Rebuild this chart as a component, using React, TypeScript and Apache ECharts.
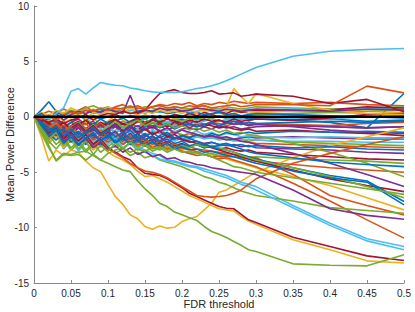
import React, { useEffect, useRef } from "react";
import * as echarts from "echarts";

// FDR threshold grid (x values)
const FDR = [
  0, 0.01, 0.02, 0.03, 0.04, 0.05, 0.06, 0.07, 0.08, 0.09,
  0.1, 0.11, 0.12, 0.13, 0.14, 0.15, 0.16, 0.17, 0.18, 0.19,
  0.2, 0.21, 0.22, 0.23, 0.24, 0.25, 0.26, 0.27, 0.28, 0.29,
  0.3, 0.35, 0.4, 0.45, 0.5,
];

const X_TICKS = [0, 0.05, 0.1, 0.15, 0.2, 0.25, 0.3, 0.35, 0.4, 0.45, 0.5];
const Y_TICKS = [-15, -10, -5, 0, 5, 10];

const BLUE = "#0072BD";
const ORANGE = "#D95319";
const YELLOW = "#EDB120";
const PURPLE = "#7E2F8E";
const GREEN = "#77AC30";
const CYAN = "#4DBEEE";
const RED = "#A2142F";

const L1 = [0,0.1,-0.2,0.3,0.8, 2.3,2.55,2.05,2.6,3.1, 2.95,2.85,2.8,2.6,2.5, 2.35,2.25,2.2,2.2,2.2, 2.25,2.4,2.55,2.65,2.8, 3.0,3.25,3.55,3.85,4.15, 4.45, 5.47,5.92,6.07,6.16];
const L2 = [0,-0.3,-0.5,-0.2,-0.6, -0.3,-0.1,0.2,-0.3,0.1, 0.3,0.2,0.5,0.3,0.4, 0.6,1.4,2.1,2.3,2.45, 2.2,2.1,2.1,2.2,2.35, 2.05,2.1,2.16,1.86,1.95, 2.05, 1.86,1.2,1.57,0.45];
const L3 = [0,-0.2,0.1,-0.3,0.2, 0.4,0.3,0.6,0.5,0.7, 0.6,0.8,0.7,0.9,0.8, 0.7,0.9,1.0,0.8,0.9, 0.8,1.0,0.9,1.0,0.8, 0.9,1.0,1.1,0.9,1.0, 1.1, 1.1,1.0,2.77,2.16];
const L4 = [0,0.6,1.35,0.5,0.3, 0.1,0.2,-0.3,0.1,-0.2, 0.0,0.2,-0.1,0.1,0.0, -0.2,0.1,-0.1,0.0,0.2, 0.1,-0.1,0.0,0.1,0.2, 0.0,-0.1,0.1,0.0,-0.2, -0.1, -0.3,-0.5,-1.0,2.1];
const L5 = [0,-0.5,-0.3,0.2,-0.4, 0.1,0.3,-0.2,0.4,0.2, 0.5,0.3,0.6,0.4,0.2, 0.5,0.3,0.6,0.4,0.5, 0.3,0.6,0.4,0.8,0.6, 0.5,0.9,2.56,1.8,1.2, 2.1, 1.2,0.6,0.3,0.2];
const L6 = [0,-0.4,-0.2,0.3,-0.3, 0.2,0.5,0.3,0.6,0.4, 0.7,0.5,0.3,1.95,0.3, 0.6,0.5,0.8,0.6,0.7, 0.5,0.6,0.8,0.7,0.6, 0.5,0.7,0.6,0.5,0.6, 0.7, 0.6,0.5,0.7,0.6];

const A1 = [0,-0.3,0.2,-0.5,0.3, 0.6,0.4,0.8,1.0,0.7, 0.9,0.6,0.8,1.0,0.7, 0.9,0.8,0.6,0.7,0.9, 0.8,0.7,0.9,1.0,0.8, 0.7,0.9,0.8,0.7,0.8, 0.9, 0.8,0.7,0.8,0.9];
const A2 = [0,-0.6,-0.9,-0.4,-1.1, -0.5,-0.8,-0.3,-0.7,-0.2, -0.6,-0.4,-0.1,-0.5,-0.3, -0.6,-0.2,-0.4,-0.5,-0.3, -0.2,-0.4,-0.1,-0.3,-0.2, -0.4,-0.3,-0.1,-0.2,-0.3, -0.2, -0.3,-0.2,-0.4,-0.3];
const A3 = [0,0.2,0.5,0.3,0.7, 0.4,0.6,0.9,0.5,0.8, 0.6,0.9,1.1,0.8,1.0, 0.7,0.9,1.1,1.0,1.2, 1.1,1.3,1.0,1.2,1.1, 1.3,1.2,1.4,1.3,1.2, 1.3, 1.2,1.3,1.1,1.0];
const A4 = [0,-0.8,-0.4,-1.2,-0.6, -0.2,-0.9,-0.5,-0.1,-0.7, -0.4,0.1,-0.3,-0.6,-0.2, 0.2,-0.1,-0.4,0.1,-0.2, 0.0,0.3,0.1,-0.1,0.2, 0.4,0.1,0.3,0.5,0.3, 0.4, 0.6,0.7,0.5,0.6];
const A5 = [0,-0.2,-0.6,-0.3,-0.9, -0.5,-0.2,-0.7,-0.4,-1.0, -0.6,-0.3,-0.8,-0.5,-0.2, -0.6,-0.9,-0.4,-0.7,-0.5, -0.3,-0.6,-0.4,-0.7,-0.5, -0.3,-0.6,-0.4,-0.5,-0.7, -0.6, -0.8,-0.9,-1.0,-0.9];
const A6 = [0,-0.4,0.1,-0.2,0.4, 0.1,0.5,0.2,0.6,0.3, 0.5,0.7,0.4,0.6,0.5, 0.3,0.6,0.4,0.5,0.7, 0.6,0.4,0.5,0.6,0.5, 0.7,0.6,0.5,0.6,0.7, 0.6, 0.7,0.6,0.8,0.7];
const A7 = [0,-0.5,-1.0,-0.6,-1.3, -0.8,-0.4,-1.1,-0.6,-0.9, -0.5,-0.2,-0.7,-0.4,-0.1, -0.5,-0.3,0.1,-0.2,0.2, 0.0,0.3,0.1,0.4,0.2, 0.5,0.3,0.6,0.4,0.5, 0.6, 0.5,0.6,0.9,0.8];
const A8 = [0,0.3,-0.2,0.4,0.1, 0.5,0.2,0.6,0.3,0.5, 0.7,0.4,0.6,0.3,0.5, 0.6,0.4,0.5,0.3,0.4, 0.5,0.3,0.4,0.2,0.3, 0.4,0.2,0.3,0.1,0.2, 0.3, 0.2,0.1,0.0,-0.1];
const A9 = [0,-0.7,-1.5,-1.0,-1.8, -1.2,-0.8,-1.4,-0.9,-0.5, -1.1,-0.7,-0.4,-0.8,-0.5, -0.2,-0.6,-0.3,-0.5,-0.2, -0.4,-0.1,-0.3,0.0,-0.2, 0.1,-0.1,0.2,0.0,0.1, 0.2, 0.3,0.4,0.5,0.6];
const A10 = [0,-0.3,-0.7,-1.2,-0.8, -1.5,-1.0,-0.6,-1.3,-0.8, -1.1,-0.7,-1.0,-0.6,-0.9, -0.5,-0.8,-0.6,-0.9,-0.7, -0.5,-0.8,-0.6,-0.7,-0.5, -0.6,-0.8,-0.6,-0.7,-0.5, -0.6, -0.7,-0.8,-0.6,-0.5];
const A11 = [0,0.4,0.1,0.6,0.3, 0.8,0.5,0.2,0.7,0.4, 0.9,0.6,0.3,0.8,0.5, 0.7,0.4,0.6,0.8,0.5, 0.7,0.6,0.8,0.5,0.7, 0.6,0.5,0.7,0.6,0.5, 0.4, 0.5,0.4,0.3,0.4];
const A12 = [0,-0.9,-1.6,-1.1,-2.0, -1.4,-0.9,-1.6,-1.1,-1.8, -1.2,-0.8,-1.4,-0.9,-1.3, -0.7,-1.1,-0.8,-1.2,-0.9, -0.6,-1.0,-0.7,-0.9,-0.6, -0.8,-0.5,-0.7,-0.6,-0.8, -0.7, -0.9,-1.2,-1.4,-1.5];
const A13 = [0,-1.0,-2.1,-1.5,-2.6, -1.9,-1.3,-2.2,-1.6,-1.0, -1.7,-1.2,-0.8,-1.4,-1.0, -0.6,-1.1,-0.7,-0.4,-0.8, -0.5,-0.3,-0.6,-0.4,-0.2, -0.4,-0.3,-0.1,-0.2,-0.3, -0.2, -0.1,-0.2,0.0,0.1];
const A14 = [0,-0.6,-0.2,-0.9,-0.4, -1.2,-0.7,-0.3,-1.0,-0.5, -0.8,-0.3,-0.6,-0.9,-0.4, -0.7,-0.3,-0.5,-0.2,-0.4, -0.6,-0.3,-0.5,-0.2,-0.4, -0.3,-0.5,-0.2,-0.4,-0.3, -0.2, -0.3,-0.1,0.2,0.3];

const B1 = [0,-0.8,-1.7,-1.2,-2.4, -1.8,-2.6,-1.9,-1.4,-2.2, -1.6,-2.3,-1.7,-1.2,-1.9, -1.5,-2.1,-1.7,-1.4,-1.9, -1.7,-1.95,-2.2,-2.5,-2.7, -2.6,-2.55,-2.7,-2.9,-3.15, -3.3, -3.7,-4.1,-4.3,-4.5];
const B2 = [0,-1.2,-2.0,-1.5,-2.8, -2.1,-1.6,-2.4,-1.9,-2.7, -2.2,-1.8,-2.5,-2.0,-2.6, -2.2,-2.8,-2.4,-2.9,-2.6, -2.85,-2.9,-3.15,-3.4,-3.6, -3.55,-3.6,-3.6,-3.7,-3.8, -4.0, -4.3,-4.6,-4.8,-5.0];
const B3 = [0,-0.4,-1.1,-0.6,-1.5, -1.0,-0.5,-1.2,-0.7,-1.4, -0.9,-0.4,-1.0,-0.6,-0.3, -0.8,-0.5,-0.9,-0.6,-1.0, -0.8,-1.2,-1.0,-1.3,-1.1, -1.4,-1.2,-1.5,-1.4,-1.6, -1.7, -2.4,-3.2,-4.2,-5.4];
const B4 = [0,-0.5,-1.3,-0.8,-1.9, -1.3,-0.7,-1.5,-1.1,-1.7, -1.2,-0.7,-1.4,-0.9,-1.6, -1.1,-0.8,-1.3,-1.0,-1.5, -1.2,-1.4,-1.6,-1.8,-1.7, -1.9,-2.1,-2.0,-2.2,-2.3, -2.5, -3.3,-4.2,-5.2,-6.3];

const CYAN1 = [0,-0.6,-1.4,-0.9,-1.8, -1.2,-2.0,-1.5,-2.3,-1.7, -2.2,-1.6,-2.5,-2.0,-2.7, -3.0,-3.3,-3.5,-3.9,-4.0, -4.2,-4.4,-4.5,-4.7,-4.9, -5.1,-5.3,-5.6,-5.9,-6.1, -6.3, -8.0,-9.6,-11.0,-11.7];
const CYAN2 = [0,-0.8,-1.6,-1.1,-2.1, -1.5,-2.3,-1.8,-2.6,-2.0, -2.5,-1.9,-2.8,-2.3,-2.9, -3.2,-3.5,-3.8,-4.0,-4.1, -4.3,-4.5,-4.6,-4.9,-5.1, -5.3,-5.5,-5.8,-6.1,-6.3, -6.6, -8.2,-9.8,-11.2,-12.0];

const YELLOW_DIP = [0,-1.8,-4.0,-3.0,-3.5, -3.0,-3.2,-4.0,-4.6,-4.95, -6.1,-7.2,-7.9,-8.85,-9.2, -9.9,-10.15,-9.85,-10.05,-9.97, -9.46,-9.2,-9.0,-8.4,-7.8, -6.8,-6.6,-6.2,-5.8,-5.4, -5.0, -3.7,-2.6,-1.8,-1.0];
const GREEN_LOW = [0,-1.2,-2.6,-4.0,-3.4, -3.5,-3.4,-3.9,-3.4,-3.9, -4.2,-4.5,-4.8,-4.95,-5.8, -6.5,-7.1,-7.8,-8.1,-8.6, -8.85,-9.1,-9.35,-9.9,-10.35, -10.6,-10.9,-11.25,-11.6,-12.0, -12.16, -13.27,-13.4,-13.45,-12.46];
const RED_LOW = [0,-0.7,-1.5,-1.0,-2.0, -1.4,-2.2,-1.6,-2.5,-2.0, -2.8,-3.2,-3.6,-3.9,-4.6, -5.1,-5.2,-5.3,-5.6,-6.0, -6.4,-6.9,-7.2,-7.5,-7.8, -8.1,-8.25,-8.3,-8.8,-9.3, -9.55, -10.87,-11.7,-12.55,-12.97];
const YELLOW_LOW = [0,-1.0,-2.4,-1.7,-2.8, -2.0,-2.9,-2.2,-3.0,-2.5, -3.2,-3.6,-3.9,-4.3,-4.9, -5.4,-5.3,-5.6,-5.9,-6.3, -6.7,-7.1,-7.4,-7.7,-8.0, -8.3,-8.4,-8.5,-9.0,-9.4, -9.7, -11.1,-12.0,-13.0,-13.2];
const ORANGE_C = [0,-0.9,-1.9,-1.4,-2.3, -1.7,-2.5,-1.9,-2.7,-2.2, -2.9,-3.3,-3.7,-4.2,-4.6, -4.9,-5.0,-5.2,-5.5,-5.9, -6.3,-6.7,-7.1,-7.2,-7.25, -7.2,-7.1,-6.9,-6.6,-6.1, -5.6, -4.2,-3.3,-2.5,-1.8];
const ORANGE_D = [0,-0.5,-1.1,-0.7,-1.6, -1.0,-1.8,-1.3,-2.1,-1.6, -2.3,-1.8,-2.5,-2.0,-2.6, -2.3,-2.8,-2.5,-3.0,-2.8, -3.1,-3.3,-3.5,-3.4,-3.6, -3.8,-3.7,-3.9,-4.1,-4.3, -4.5, -6.0,-7.6,-9.3,-10.95];

const M1 = [0,-0.6,-1.3,-0.9,-1.7, -1.1,-1.9,-1.4,-0.9,-1.6, -1.2,-1.8,-1.4,-2.0,-1.6, -2.1,-1.8,-2.3,-2.0,-2.4, -2.2,-2.6,-2.5,-2.8,-2.7, -2.9,-3.0,-3.2,-3.4,-3.6, -3.8, -4.6,-5.3,-5.8,-7.65];
const M2 = [0,-0.4,-1.0,-1.5,-1.1, -1.8,-1.3,-2.0,-1.5,-2.2, -1.7,-2.4,-1.9,-2.5,-2.1, -2.6,-2.3,-2.7,-2.4,-2.9, -2.7,-3.0,-2.9,-3.2,-3.1, -3.3,-3.5,-3.6,-3.8,-4.0, -4.2, -4.9,-5.5,-5.9,-7.95];
const M3 = [0,-1.1,-2.3,-1.6,-2.7, -2.0,-2.6,-1.9,-2.4,-1.8, -2.2,-1.7,-2.3,-1.9,-2.5, -2.2,-2.7,-2.4,-2.8,-2.6, -3.0,-2.9,-3.2,-3.1,-3.4, -3.6,-3.8,-4.0,-4.2,-4.4, -4.6, -5.4,-6.2,-7.3,-8.4];
const M4 = [0,-0.7,-1.6,-2.5,-1.9, -2.8,-2.2,-3.0,-2.4,-3.2, -2.7,-3.3,-2.9,-3.5,-3.2, -3.7,-3.5,-3.9,-4.1,-4.3, -4.5,-4.8,-5.1,-5.4,-5.6, -5.9,-6.1,-6.4,-6.7,-6.9, -7.1, -7.6,-8.2,-8.45,-8.7];
const M5 = [0,-0.3,-0.9,-0.5,-1.3, -0.8,-1.5,-1.0,-1.7,-1.2, -1.9,-1.5,-2.1,-1.7,-2.3, -2.0,-2.5,-2.2,-2.6,-2.4, -2.8,-2.7,-2.9,-3.0,-3.1, -3.2,-3.3,-3.4,-3.5,-3.6, -3.7, -5.2,-7.1,-8.0,-8.85];
const M6 = [0,-0.8,-1.8,-1.2,-2.2, -1.6,-2.5,-1.9,-2.8,-2.3, -3.0,-2.6,-3.2,-2.8,-3.4, -3.1,-3.6,-3.4,-3.8,-3.7, -4.0,-4.1,-4.3,-4.4,-4.6, -4.7,-4.8,-4.9,-5.0,-5.1, -5.2, -6.6,-8.3,-8.9,-9.25];
const M7 = [0,-0.5,-1.2,-0.7,-1.5, -1.0,-0.6,-1.3,-0.8,-1.5, -1.1,-0.7,-1.3,-0.9,-1.4, -1.1,-1.6,-1.3,-1.8,-1.6, -2.0,-2.2,-2.4,-2.6,-2.8, -3.0,-3.2,-3.4,-3.6,-3.8, -4.0, -4.8,-5.6,-6.2,-6.75];
const M8 = [0,-0.9,-2.0,-1.4,-2.6, -1.8,-2.9,-2.2,-3.4,-2.6, -3.1,-2.4,-2.9,-2.3,-2.7, -2.5,-2.9,-2.7,-3.0,-2.9, -3.2,-3.1,-3.3,-3.4,-3.6, -3.9,-4.2,-4.5,-4.6,-4.8, -5.0, -5.5,-6.0,-6.5,-7.0];
const G2 = [0,-1.5,-2.8,-3.9,-3.3, -3.4,-3.2,-3.1,-3.5,-3.9, -3.3,-3.0,-2.8,-3.2,-2.9, -3.1,-2.8,-3.0,-2.7,-2.9, -2.6,-2.8,-2.5,-2.7,-2.6, -2.8,-3.0,-3.2,-3.5,-3.7, -3.9, -4.6,-5.4,-6.3,-7.3];

const U1 = [0,-0.5,-1.2,-0.8,-1.6, -1.1,-1.8,-1.3,-0.8,-1.4, -1.0,-0.6,-1.2,-0.8,-1.3, -0.9,-0.5,-1.0,-0.7,-1.1, -0.8,-0.6,-0.9,-0.7,-0.5, -0.8,-0.6,-0.4,-0.7,-0.5, -0.6, -0.5,-0.4,-0.5,-0.4];
const U2 = [0,-0.3,-0.8,-1.4,-0.9, -1.6,-1.0,-1.7,-1.2,-0.7, -1.3,-0.9,-1.5,-1.1,-0.8, -1.2,-0.9,-1.3,-1.0,-1.4, -1.1,-1.0,-1.2,-0.9,-1.1, -0.8,-1.0,-0.9,-1.1,-1.0, -0.9, -0.8,-0.9,-1.0,-0.9];
const U3 = [0,-0.7,-1.5,-2.1,-1.4, -2.3,-1.6,-2.5,-1.8,-2.6, -2.0,-1.5,-2.2,-1.7,-2.3, -1.8,-1.4,-1.9,-1.6,-2.0, -1.7,-1.9,-1.6,-1.8,-1.5, -1.7,-1.4,-1.6,-1.5,-1.4, -1.5, -1.3,-1.4,-1.3,-1.4];
const U4 = [0,-0.2,-0.6,-1.0,-0.5, -1.2,-0.7,-1.4,-0.9,-1.5, -1.1,-0.6,-1.3,-0.8,-1.2, -0.7,-1.0,-0.6,-0.9,-0.5, -0.8,-0.6,-0.9,-0.7,-0.8, -1.0,-0.9,-1.1,-1.2,-1.1, -1.3, -1.2,-1.4,-1.5,-1.7];
const U5 = [0,-0.6,-1.4,-0.9,-1.8, -1.2,-2.1,-1.5,-2.3,-1.7, -1.2,-1.9,-1.4,-2.0,-1.5, -2.1,-1.7,-2.2,-1.8,-2.0, -1.7,-1.9,-1.6,-1.8,-1.7, -1.9,-1.8,-2.0,-1.9,-1.8, -1.9, -1.8,-1.9,-2.0,-2.0];
const U6 = [0,-1.2,-2.4,-1.7,-2.9, -2.1,-3.1,-2.3,-1.8,-2.6, -2.0,-2.8,-2.2,-1.7,-2.4, -1.9,-2.5,-2.1,-1.8,-2.2, -1.9,-2.1,-1.8,-2.0,-1.9, -2.1,-2.0,-2.2,-2.1,-2.0, -2.1, -2.2,-2.2,-2.3,-2.3];
const U7 = [0,-0.4,-1.0,-0.6,-1.3, -0.8,-1.6,-1.1,-1.8,-1.3, -0.9,-1.5,-1.0,-1.6,-1.2, -1.7,-1.3,-1.5,-1.7,-1.4, -1.6,-1.8,-1.7,-1.9,-1.8, -2.0,-1.9,-2.1,-2.0,-2.2, -2.1, -2.3,-2.4,-2.5,-2.6];
const U8 = [0,-0.9,-1.9,-1.3,-2.2, -1.6,-2.5,-1.9,-2.7,-2.1, -1.6,-2.3,-1.8,-2.5,-2.0, -2.6,-2.2,-2.7,-2.4,-2.8, -2.5,-2.7,-2.4,-2.6,-2.3, -2.5,-2.4,-2.6,-2.5,-2.7, -2.6, -2.8,-2.7,-2.9,-3.0];
const U9 = [0,-0.5,-1.1,-1.7,-1.2, -2.0,-1.4,-2.2,-1.6,-2.4, -1.8,-1.3,-2.0,-1.5,-2.1, -1.6,-2.2,-1.8,-2.3,-1.9, -2.1,-2.3,-2.2,-2.4,-2.3, -2.5,-2.6,-2.5,-2.7,-2.6, -2.8, -2.9,-3.0,-3.2,-3.3];
const U10 = [0,-0.8,-1.7,-1.1,-2.0, -1.4,-2.3,-1.6,-2.5,-1.9, -1.4,-2.1,-1.6,-2.3,-1.8, -2.4,-2.0,-2.5,-2.2,-2.6, -2.4,-2.7,-2.5,-2.8,-2.6, -2.9,-2.8,-3.0,-3.1,-3.0, -3.2, -3.4,-3.6,-3.8,-3.9];
const U12 = [0,-1.1,-2.2,-2.9,-2.1, -3.0,-2.4,-3.2,-2.5,-2.0, -2.7,-2.2,-2.9,-2.4,-3.0, -2.6,-3.1,-2.8,-3.2,-2.9, -3.1,-3.3,-3.2,-3.4,-3.3, -3.5,-3.4,-3.6,-3.5,-3.7, -3.6, -3.8,-3.9,-4.0,-4.2];
const U13 = [0,-0.6,-0.2,-0.8,-1.4, -0.9,-1.6,-1.0,-1.9,-1.3, -0.8,-1.4,-1.0,-1.6,-1.1, -1.7,-1.2,-1.5,-1.1,-1.4, -1.2,-1.5,-1.3,-1.6,-1.4, -1.7,-1.5,-1.6,-1.8,-1.7, -1.8, -1.9,-1.8,-1.9,-1.9];
const U14 = [0,-0.7,-0.3,-1.0,-0.5, -1.3,-0.8,-1.5,-1.0,-0.6, -1.2,-0.7,-1.3,-0.9,-1.4, -1.0,-1.5,-1.2,-1.6,-1.3, -1.7,-1.5,-1.8,-1.6,-1.9, -1.8,-2.0,-2.1,-2.2,-2.3, -2.4, -2.5,-2.6,-2.7,-2.8];

// zero reference line (x from 0 to 0.5)
const BASELINE_X = [0, 0.5];
const BASELINE_Y = [0, 0];

const LINES: [string, number[]][] = [
  [BLUE, L4], [ORANGE, A3], [YELLOW, A4], [PURPLE, A5], [GREEN, A1], [CYAN, A6], [RED, A7],
  [BLUE, A2], [ORANGE, A10], [YELLOW, A11], [PURPLE, A12], [GREEN, A9], [CYAN, A13], [RED, A14],
  [BLUE, A8], [ORANGE, U14], [YELLOW, M3], [PURPLE, U2], [GREEN, U7], [CYAN, U6], [RED, U4],
  [BLUE, U1], [ORANGE, B2], [YELLOW, YELLOW_LOW], [PURPLE, U5], [GREEN, U12], [CYAN, U13], [RED, U10],
  [BLUE, U3], [ORANGE, M5], [YELLOW, YELLOW_DIP], [PURPLE, U9], [GREEN, B3], [CYAN, CYAN1], [RED, M7],
  [BLUE, U8], [ORANGE, ORANGE_D], [YELLOW, L5], [PURPLE, B4], [GREEN, M4], [CYAN, CYAN2], [RED, RED_LOW],
  [BLUE, M1], [ORANGE, ORANGE_C], [PURPLE, M6], [GREEN, G2], [BLUE, M2], [GREEN, M8],
  [BLUE, B1], [GREEN, GREEN_LOW], [PURPLE, L6], [RED, L2], [ORANGE, L3], [CYAN, L1],
];

const FONT = "'Liberation Sans', Arial, Helvetica, sans-serif";
const AXIS_COLOR = "#8a8a8a";
const TEXT_COLOR = "#262626";

export default function App() {
  const ref = useRef<HTMLDivElement>(null);

  useEffect(() => {
    if (!ref.current) return;
    const chart = echarts.init(ref.current, undefined, { renderer: "svg" });

    const series: any[] = LINES.map(([color, ys], idx) => ({
      type: "line",
      name: "s" + idx,
      data: ys.map((y, i) => [FDR[i], y]),
      showSymbol: false,
      symbol: "none",
      silent: true,
      lineStyle: { color, width: 1.6 },
      itemStyle: { color },
      z: 2,
    }));
    series.push({
      type: "line",
      name: "zero",
      data: BASELINE_X.map((x, i) => [x, BASELINE_Y[i]]),
      showSymbol: false,
      symbol: "none",
      silent: true,
      lineStyle: { color: "#000000", width: 2.5 },
      z: 5,
    });

    chart.setOption({
      animation: false,
      grid: {
        left: 34,
        right: 11,
        top: 6,
        bottom: 29,
        containLabel: false,
        outerBoundsMode: "none",
      },
      xAxis: {
        type: "value",
        min: X_TICKS[0],
        max: X_TICKS[X_TICKS.length - 1],
        interval: 0.05,
        name: "FDR threshold",
        nameLocation: "middle",
        nameGap: 15,
        nameMoveOverlap: false,
        nameTextStyle: { color: TEXT_COLOR, fontSize: 11, fontFamily: FONT },
        axisLine: { show: true, onZero: false, lineStyle: { color: AXIS_COLOR, width: 1 } },
        axisTick: { show: true, inside: true, length: 3, lineStyle: { color: AXIS_COLOR } },
        axisLabel: {
          color: TEXT_COLOR,
          fontSize: 10,
          fontFamily: FONT,
          margin: 5,
          formatter: (v: number) => String(parseFloat(v.toFixed(2))),
        },
        splitLine: { show: false },
      },
      yAxis: {
        type: "value",
        min: Y_TICKS[0],
        max: Y_TICKS[Y_TICKS.length - 1],
        interval: 5,
        name: "Mean Power Difference",
        nameLocation: "middle",
        nameGap: 19,
        nameMoveOverlap: false,
        nameTextStyle: { color: TEXT_COLOR, fontSize: 11, fontFamily: FONT },
        axisLine: { show: true, onZero: false, lineStyle: { color: AXIS_COLOR, width: 1 } },
        axisTick: { show: true, inside: true, length: 3, lineStyle: { color: AXIS_COLOR } },
        axisLabel: { color: TEXT_COLOR, fontSize: 10, fontFamily: FONT, margin: 5 },
        splitLine: { show: false },
      },
      series,
    });

    return () => chart.dispose();
  }, []);

  return (
    <div
      ref={ref}
      style={{ position: "fixed", left: 0, top: 0, width: 415, height: 312, background: "#fff" }}
    />
  );
}
